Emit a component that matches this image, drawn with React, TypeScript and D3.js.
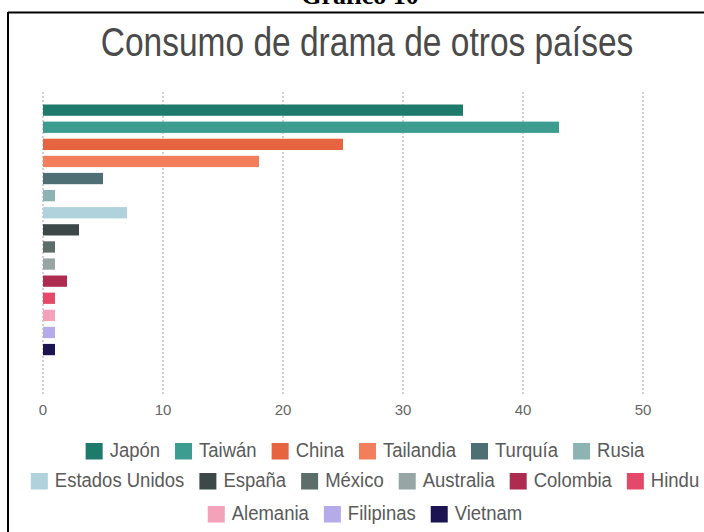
import React from "react";
import * as d3 from "d3";

const countries = [
  "Japón", "Taiwán", "China", "Tailandia", "Turquía", "Rusia",
  "Estados Unidos", "España", "México", "Australia", "Colombia", "Hindu",
  "Alemania", "Filipinas", "Vietnam",
];
const values = [35, 43, 25, 18, 5, 1, 7, 3, 1, 1, 2, 1, 1, 1, 1];
const colors = [
  "#1e7a6b", "#3c9c8f", "#e6643f", "#f27e5c", "#4e6f74", "#8db4b3",
  "#b0d2dc", "#3d4848", "#5d6d6a", "#97a6a4", "#ad2c50", "#e5496a",
  "#f3a2ba", "#b5aaea", "#1b1352",
];
const xTicks = [0, 10, 20, 30, 40, 50];
const blankRows = ["_a", "_b", "_c"];
const legendRows = [
  ["Japón", "Taiwán", "China", "Tailandia", "Turquía", "Rusia"],
  ["Estados Unidos", "España", "México", "Australia", "Colombia", "Hindu"],
  ["Alemania", "Filipinas", "Vietnam"],
];

const W = 704;
const H = 532;
const SANS = "'Liberation Sans', Arial, sans-serif";

export default function App() {
  const x = d3.scaleLinear().domain([0, 50]).range([43, 643]);
  const y = d3
    .scaleBand<string>()
    .domain([...countries, ...blankRows])
    .range([101.6, 101.6 + 18 * 17.1])
    .paddingInner(0.34)
    .paddingOuter(0.17);
  const color = d3.scaleOrdinal<string, string>().domain(countries).range(colors);

  const legendSize = 18.5;
  const ctx = document.createElement("canvas").getContext("2d")!;
  ctx.font = `${legendSize}px ${SANS}`;
  const measure = (s: string) => ctx.measureText(s).width;
  const sw = 17;
  const gapSwText = 7;
  const gapItems = 15;
  const legendCenter = 365;
  const rowY = [451, 481, 514];

  return (
    <svg
      width={W}
      height={H}
      style={{ position: "absolute", left: 0, top: 0, background: "#fff" }}
    >
      <rect x={0} y={0} width={W} height={H} fill="#fff" />
      <text
        x={360}
        y={4}
        textAnchor="middle"
        fontFamily="'Liberation Serif', 'Times New Roman', serif"
        fontWeight="bold"
        fontSize={26}
        fill="#000"
      >
        Gráfico 10
      </text>
      <line x1={8} x2={W} y1={12.5} y2={12.5} stroke="#000" strokeWidth={2} />
      <line x1={8} x2={8} y1={12} y2={H} stroke="#000" strokeWidth={2} />

      <g transform="translate(367,56) scale(1,1.2)">
        <text
          x={0}
          y={0}
          textAnchor="middle"
          fontFamily={SANS}
          fontSize={33.5}
          fill="#4a4a4a"
        >
          Consumo de drama de otros países
        </text>
      </g>

      {xTicks.map((t) => (
        <g key={t}>
          <line
            x1={x(t)}
            x2={x(t)}
            y1={92}
            y2={396}
            stroke="#c4c4c4"
            strokeWidth={1.5}
            strokeDasharray="2,2"
          />
          <text
            x={x(t)}
            y={415}
            textAnchor="middle"
            fontFamily={SANS}
            fontSize={15}
            fill="#666"
          >
            {t}
          </text>
        </g>
      ))}

      {countries.map((c, i) => (
        <rect
          key={c}
          x={x(0)}
          y={y(c)!}
          width={x(values[i]) - x(0)}
          height={y.bandwidth()}
          fill={color(c)}
        />
      ))}

      {legendRows.map((row, ri) => {
        const widths = row.map((n) => sw + gapSwText + measure(n));
        const total = widths.reduce((a, b) => a + b, 0) + gapItems * (row.length - 1);
        let cx = legendCenter - total / 2;
        const cy = rowY[ri];
        return row.map((n, k) => {
          const gx = cx;
          cx += widths[k] + gapItems;
          return (
            <g key={n}>
              <rect x={gx} y={cy - 8} width={sw} height={16.5} fill={color(n)} />
              <g transform={`translate(${gx + sw + gapSwText},${cy + 6}) scale(1,1.1)`}>
                <text x={0} y={0} fontFamily={SANS} fontSize={legendSize} fill="#5a5a5a">
                  {n}
                </text>
              </g>
            </g>
          );
        });
      })}
    </svg>
  );
}
